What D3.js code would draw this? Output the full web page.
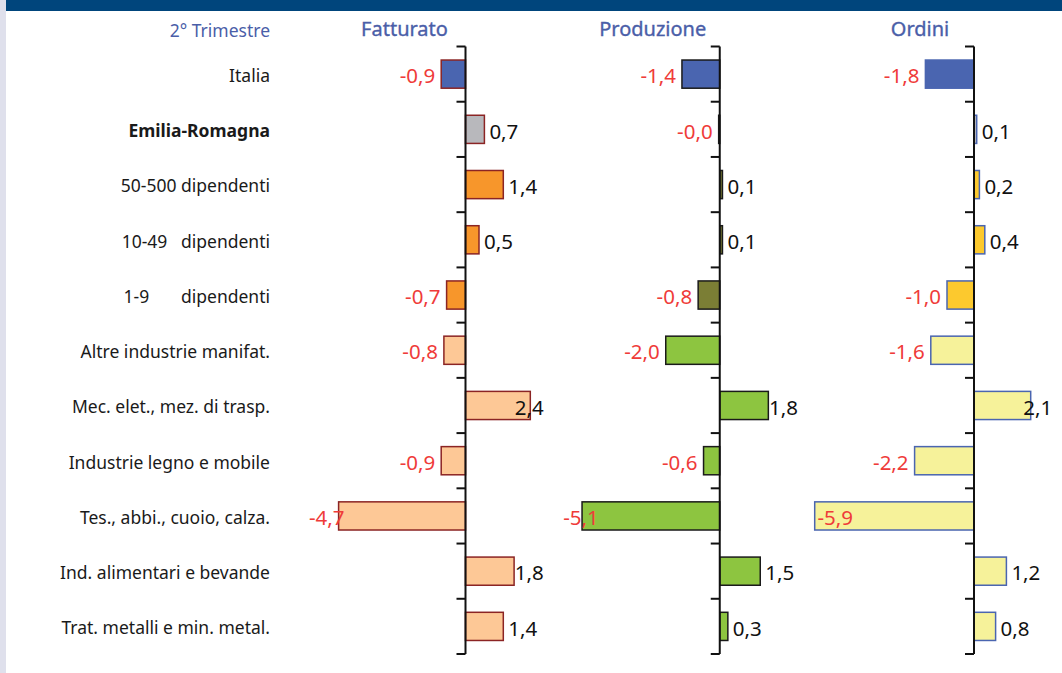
<!DOCTYPE html>
<html><head><meta charset="utf-8">
<script src="https://cdn.jsdelivr.net/npm/d3@7"></script>
<style>
html,body{margin:0;padding:0;background:#fff;}
svg{display:block;font-family:"Noto Sans","Open Sans",sans-serif;}
</style></head>
<body><svg id="chart" width="1062" height="673"></svg>
<script>
// ---- data ----
const headerLabel = "2° Trimestre";
const panels = ["Fatturato", "Produzione", "Ordini"];
const categories = [
  "Italia",
  "Emilia-Romagna",
  "50-500 dipendenti",
  "10-49   dipendenti",
  "1-9       dipendenti",
  "Altre industrie manifat.",
  "Mec. elet., mez. di trasp.",
  "Industrie legno e mobile",
  "Tes., abbi., cuoio, calza.",
  "Ind. alimentari e bevande",
  "Trat. metalli e min. metal."
];
const fatturato  = [-0.9, 0.7, 1.4, 0.5, -0.7, -0.8, 2.4, -0.9, -4.7, 1.8, 1.4];
const produzione = [-1.4, -0.04, 0.1, 0.1, -0.8, -2.0, 1.8, -0.6, -5.1, 1.5, 0.3];
const ordini     = [-1.8, 0.1, 0.2, 0.4, -1.0, -1.6, 2.1, -2.2, -5.9, 1.2, 0.8];
const seriesValues = [fatturato, produzione, ordini];
const valueDomain = [-5.8, 2.9];

// ---- styles ----
const groupOf = i => i === 0 ? "italia" : i === 1 ? "er" : i <= 4 ? "size" : "sector";
const fills = {
  Fatturato:  {italia:"#4a65b0", er:"#b8b8bc", size:"#f7962b", sector:"#fdc896"},
  Produzione: {italia:"#4a65b0", er:"#b8b8bc", size:"#7b7e35", sector:"#8dc540"},
  Ordini:     {italia:"#4a65b0", er:"#b8b8bc", size:"#fcc92e", sector:"#f6f29a"}
};
const strokes = {Fatturato:"#8b2424", Produzione:"#1a1a1a", Ordini:"#4a65b0"};
const titleOffset = {Fatturato:-61, Produzione:-67, Ordini:-54};
const blueText = "#4a5ea8", redText = "#ef3b39";

const svg = d3.select("#chart");
svg.append("rect").attr("x",0).attr("y",0).attr("width",6).attr("height",673).attr("fill","#dfe0ec");
svg.append("rect").attr("x",6).attr("y",0).attr("width",1056).attr("height",11).attr("fill","#00457c");

// layout
const plotTop = 46.5, plotBottom = 654;
const pxPerUnit = 27;
const y = d3.scaleBand().domain(categories).range([plotTop, plotBottom]).paddingInner(0.49).paddingOuter(0.245);
const rowBand = d3.scaleBand().domain(categories).range([plotTop, plotBottom]);
const zeroX = d3.scalePoint().domain(panels).range([465.5, 974]);

svg.append("text").attr("x", 270).attr("y", 37).attr("text-anchor","end")
  .attr("fill", blueText).attr("font-size", 17.5).text(headerLabel);

svg.append("g").selectAll("text").data(categories).join("text")
  .attr("x", 270)
  .attr("y", d => rowBand(d) + rowBand.bandwidth()/2)
  .attr("dy", "0.45em")
  .attr("text-anchor", "end")
  .attr("font-size", 17.5)
  .attr("font-weight", (d,i) => i === 1 ? "bold" : "normal")
  .attr("fill", "#1a1a1a")
  .style("white-space", "pre")
  .text(d => d);

const fmt = v => (v < 0 ? "-" : "") + Math.abs(v).toFixed(1).replace(".", ",");

panels.forEach((p, pi) => {
  const vals = seriesValues[pi];
  const z = zeroX(p);
  const x = d3.scaleLinear().domain(valueDomain)
    .range([z + valueDomain[0] * pxPerUnit, z + valueDomain[1] * pxPerUnit]);
  const g = svg.append("g");

  g.append("text").attr("x", z + titleOffset[p]).attr("y", 36).attr("text-anchor","middle")
    .attr("fill", blueText).attr("font-size", 20).attr("font-weight", "normal")
    .attr("stroke", blueText).attr("stroke-width", 0.35).text(p);

  g.selectAll("rect.bar").data(vals).join("rect").attr("class","bar")
    .attr("x", v => x(Math.min(0, v)))
    .attr("width", v => Math.abs(x(v) - x(0)))
    .attr("y", (v,i) => y(categories[i]))
    .attr("height", y.bandwidth())
    .attr("fill", (v,i) => fills[p][groupOf(i)])
    .attr("stroke", strokes[p])
    .attr("stroke-width", 1.5);

  const ax = g.append("g").attr("transform", `translate(${x(0)},0)`);
  ax.append("line").attr("x1",0).attr("x2",0).attr("y1",plotTop).attr("y2",plotBottom)
    .attr("stroke","#111").attr("stroke-width",2);
  const boundaries = categories.map(c => rowBand(c)).concat([plotBottom]);
  ax.selectAll("line.tick").data(boundaries).join("line").attr("class","tick")
    .attr("x1",-9).attr("x2",0).attr("y1",d=>d).attr("y2",d=>d)
    .attr("stroke","#111").attr("stroke-width",2);

  const lbl = g.selectAll("text.val").data(vals).join("text").attr("class","val")
    .attr("y", (v,i) => y(categories[i]) + y.bandwidth()/2)
    .attr("dy","0.45em")
    .attr("font-size", 20.5)
    .attr("fill", v => v < 0 ? redText : "#111")
    .text(v => fmt(v));
  lbl.each(function(v){
    const w = this.getComputedTextLength();
    let left;
    if (v < 0) {
      left = Math.max(x(v) - 6 - w, x.range()[0]);
    } else {
      left = Math.min(x(v) + 5, x.range()[1] - w);
    }
    d3.select(this).attr("x", left);
  });
});
</script></body></html>
